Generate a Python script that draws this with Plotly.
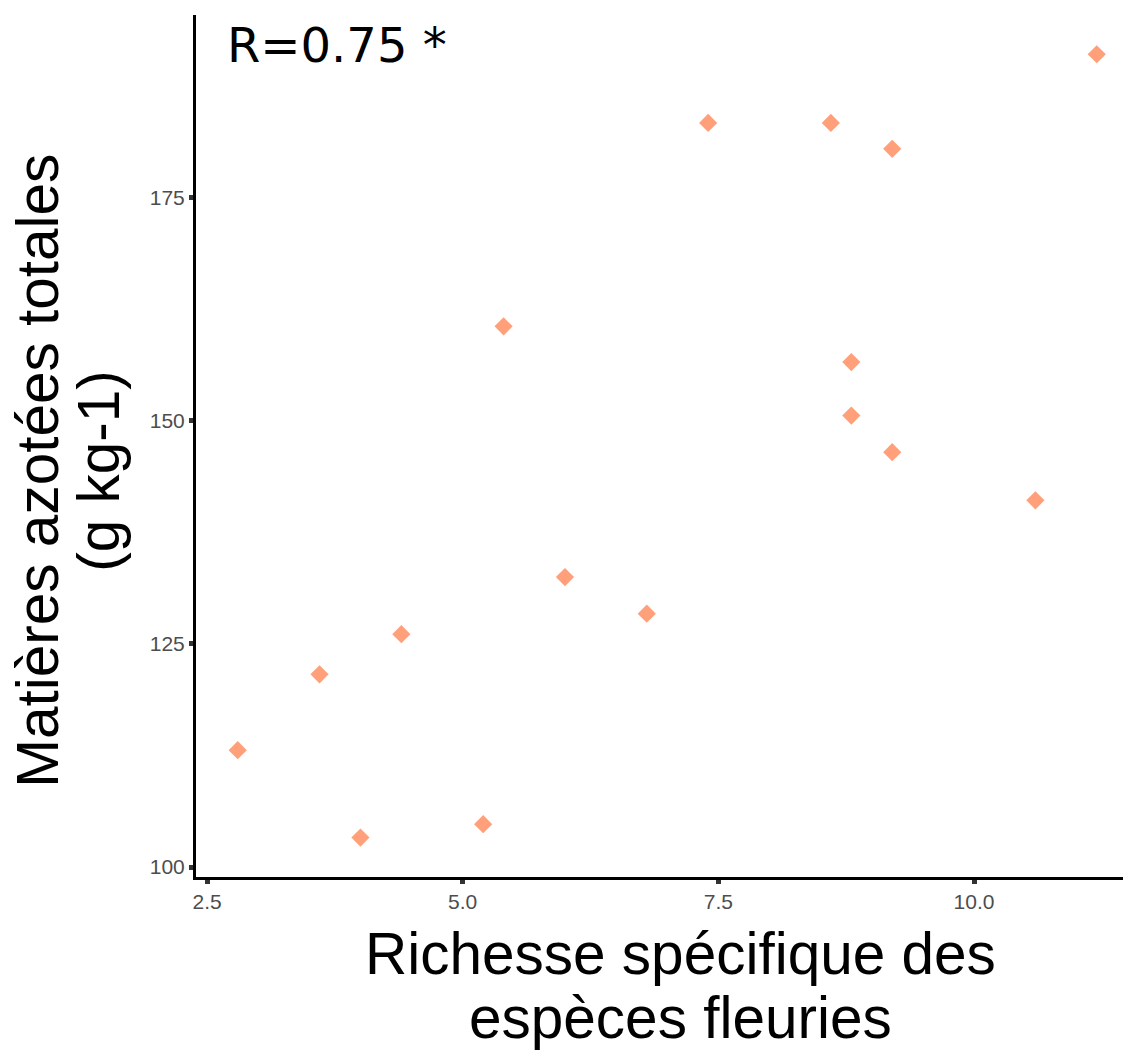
import plotly.graph_objects as go

richesse = [2.8, 3.6, 4.0, 4.4, 5.2, 5.4, 6.0, 6.8, 7.4, 8.6, 8.8, 8.8, 9.2, 9.2, 10.6, 11.2]
mat = [113.1, 121.6, 103.3, 126.1, 104.8, 160.6, 132.5, 128.4, 183.4, 183.4, 156.6, 150.6, 180.5, 146.5, 141.1, 191.1]
xticks = [2.5, 5.0, 7.5, 10.0]
xticklabels = ["2.5", "5.0", "7.5", "10.0"]
yticks = [100, 125, 150, 175]
yticklabels = ["100", "125", "150", "175"]
x_title_lines = ["Richesse spécifique des", "espèces fleuries"]
y_title_lines = ["Matières azotées totales", "(g kg-1)"]

fig = go.Figure(go.Scatter(
    x=richesse, y=mat, mode="markers",
    marker=dict(symbol="diamond", size=14, color="#FFA07A", line=dict(width=0)),
    showlegend=False,
))

axis_common = dict(
    showgrid=False, zeroline=False, showline=True, linecolor="black", linewidth=3,
    ticks="outside", ticklen=4, tickwidth=5, tickcolor="#333333",
    tickfont=dict(family="Liberation Sans, Arial", size=21, color="#4d4d4d"),
)

title_font = dict(family="Liberation Sans, Arial", size=58.5, color="black")

annotations = [dict(text="R=0.75 *", xref="paper", yref="paper", x=0.031, y=1.0,
                    xanchor="left", yanchor="top", showarrow=False,
                    font=dict(family="DejaVu Sans", size=48, color="black"))]
for txt, yy in zip(x_title_lines, [-0.0882, -0.1625]):
    annotations.append(dict(text=txt, xref="paper", yref="paper", x=0.5182, y=yy,
                            xanchor="center", yanchor="middle", showarrow=False,
                            font=title_font))
for txt, xx in zip(y_title_lines, [-0.1698, -0.1045]):
    annotations.append(dict(text=txt, xref="paper", yref="paper", x=xx, y=0.4716,
                            xanchor="center", yanchor="middle", showarrow=False,
                            textangle=-90, font=title_font))

fig.update_layout(
    width=1123, height=1042,
    margin=dict(l=188, r=0, t=7, b=173),
    plot_bgcolor="white", paper_bgcolor="white",
    xaxis=dict(range=[2.392, 11.535], tickvals=xticks, ticktext=xticklabels, **axis_common),
    yaxis=dict(range=[98.88, 195.5], tickvals=yticks, ticktext=yticklabels, **axis_common),
    annotations=annotations,
)

fig.write_html("out.html")
